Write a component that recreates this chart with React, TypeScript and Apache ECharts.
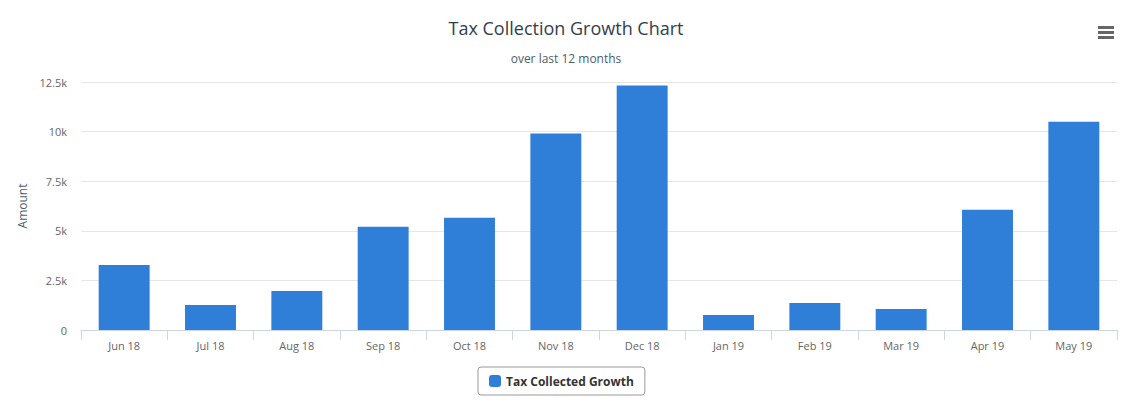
import React, { useEffect, useRef } from "react";
import * as echarts from "echarts";

const categories = ["Jun 18", "Jul 18", "Aug 18", "Sep 18", "Oct 18", "Nov 18", "Dec 18", "Jan 19", "Feb 19", "Mar 19", "Apr 19", "May 19"];
const taxCollected = [3280, 1260, 1970, 5200, 5660, 9900, 12320, 760, 1360, 1060, 6060, 10500];
const seriesName = "Tax Collected Growth";
const titleText = "Tax Collection Growth Chart";
const subtitleText = "over last 12 months";
const yAxisTitle = "Amount";

const FONT = "'Open Sans', 'Noto Sans', sans-serif";

export default function App() {
  const ref = useRef<HTMLDivElement>(null);
  useEffect(() => {
    if (!ref.current) return;
    const chart = echarts.init(ref.current, null, { renderer: "svg" });
    chart.setOption({
      animation: false,
      backgroundColor: "#ffffff",
      textStyle: { fontFamily: FONT },
      title: [
        {
          text: titleText,
          left: "center",
          top: 14,
          textStyle: { fontSize: 18, fontWeight: "normal", color: "#333e4d", fontFamily: FONT },
        },
        {
          text: subtitleText,
          left: "center",
          top: 47,
          textStyle: { fontSize: 12, fontWeight: "normal", color: "#4d5d6e", fontFamily: FONT },
        },
      ],
      legend: {
        bottom: 14,
        left: 478,
        data: [seriesName],
        icon: "roundRect",
        itemWidth: 12,
        itemHeight: 12,
        itemGap: 8,
        padding: [8, 11, 8, 11],
        borderColor: "#999999",
        borderWidth: 1,
        borderRadius: 3,
        textStyle: { fontSize: 12, fontWeight: "bold", color: "#333333", fontFamily: FONT },
      },
      grid: { left: 81, right: 15, top: 82, bottom: 79, containLabel: false },
      xAxis: {
        type: "category",
        data: categories,
        axisLine: { lineStyle: { color: "#ccd6eb" } },
        axisTick: { show: true, length: 10, alignWithLabel: false, lineStyle: { color: "#ccd6eb" } },
        axisLabel: { color: "#666666", fontSize: 11, margin: 10, fontFamily: FONT },
      },
      yAxis: {
        type: "value",
        min: 0,
        max: 12500,
        interval: 2500,
        name: yAxisTitle,
        nameLocation: "middle",
        nameRotate: 90,
        nameGap: 53,
        nameTextStyle: { color: "#4d5d6e", fontSize: 12, fontFamily: FONT },
        axisLine: { show: false },
        axisTick: { show: false },
        splitLine: { lineStyle: { color: "#e6e6e6" } },
        axisLabel: {
          color: "#666666",
          fontSize: 11,
          margin: 14,
          fontFamily: FONT,
          formatter: (v: number) => (v === 0 ? "0" : v / 1000 + "k"),
        },
      },
      series: [
        {
          name: seriesName,
          type: "bar",
          data: taxCollected,
          barCategoryGap: "41%",
          itemStyle: { color: "#2f7ed8" },
        },
      ],
      graphic: [
        { type: "rect", left: 1098, top: 26, shape: { width: 16, height: 3 }, style: { fill: "#666666" } },
        { type: "rect", left: 1098, top: 31, shape: { width: 16, height: 3 }, style: { fill: "#666666" } },
        { type: "rect", left: 1098, top: 36, shape: { width: 16, height: 3 }, style: { fill: "#666666" } },
      ],
    });
    return () => chart.dispose();
  }, []);
  return (
    <div
      ref={ref}
      style={{ position: "fixed", left: 0, top: 0, width: 1132, height: 409, background: "#fff" }}
    />
  );
}
